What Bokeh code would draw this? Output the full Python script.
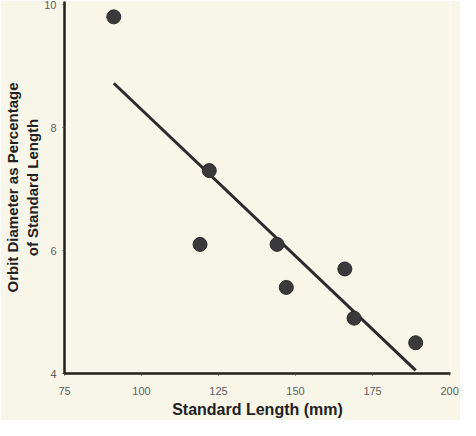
from bokeh.plotting import figure
from bokeh.models import Range1d, FixedTicker
from bokeh.embed import file_html
from bokeh.resources import INLINE

# Data
standard_length = [91, 119, 122, 144, 147, 166, 169, 189]
orbit_pct = [9.8, 6.1, 7.3, 6.1, 5.4, 5.7, 4.9, 4.5]
fit_x = [91, 189]
fit_y = [8.72, 4.05]
x_ticks = [75, 100, 125, 150, 175, 200]
y_ticks = [4, 6, 8, 10]

BG = "#f8f6e9"

p = figure(width=460, height=420, output_backend="svg", toolbar_location=None,
           x_range=Range1d(75, 200.3), y_range=Range1d(4, 10.05),
           background_fill_color=BG, border_fill_color=BG,
           min_border_left=64, min_border_right=10, min_border_top=1, min_border_bottom=47)
p.outline_line_color = None
p.grid.visible = False

p.line(fit_x, fit_y, line_color="#2b2b2b", line_width=3)
p.scatter(standard_length, orbit_pct, size=14, fill_color="#3a3a3a", line_color="#2a2a2a")

for ax in (p.xaxis[0], p.yaxis[0]):
    ax.axis_line_color = "#221e1a"
    ax.axis_line_width = 2.5
    ax.major_tick_line_color = "#444444"
    ax.major_tick_in = 0
    ax.major_tick_out = 2
    ax.minor_tick_line_color = None
    ax.major_label_text_font = "Liberation Sans"
    ax.major_label_text_font_size = "11px"
    ax.major_label_text_color = "#606060"
    ax.axis_label_text_font = "Liberation Sans"
    ax.axis_label_text_font_style = "bold"
    ax.axis_label_text_color = "#222222"

p.xaxis.axis_label_text_font_size = "16px"
p.yaxis.axis_label_text_font_size = "15px"
p.xaxis.ticker = FixedTicker(ticks=x_ticks)
p.yaxis.ticker = FixedTicker(ticks=y_ticks)
p.xaxis.axis_label = "Standard Length (mm)"
p.yaxis.axis_label = "Orbit Diameter as Percentage\nof Standard Length"
p.xaxis.major_label_standoff = 11
p.yaxis.major_label_standoff = 6
p.xaxis.axis_label_standoff = 3
p.yaxis.axis_label_standoff = 0

open("out.html", "w").write(file_html(p, INLINE))
